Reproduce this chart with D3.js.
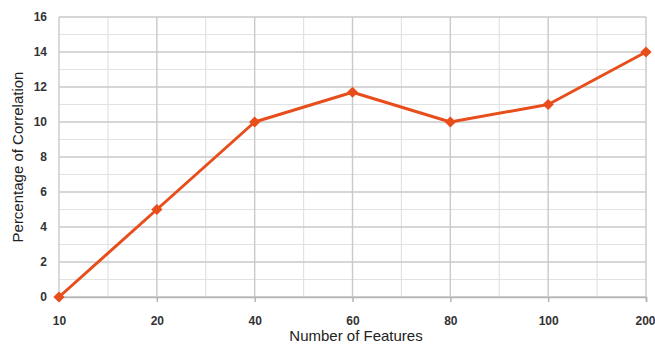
<!DOCTYPE html>
<html><head><meta charset="utf-8">
<script src="https://cdn.jsdelivr.net/npm/d3@7"></script>
<style>body{margin:0;background:#fff}svg{display:block}</style>
</head><body>
<script>
const categories = ["10","20","40","60","80","100","200"];
const values = [0, 5, 10, 11.7, 10, 11, 14];
const yTicks = [0,2,4,6,8,10,12,14,16];
const xTitle = "Number of Features";
const yTitle = "Percentage of Correlation";

const W = 655, H = 344;
const m = {left: 59, right: 9, top: 17, bottom: 47};
const svg = d3.select("body").append("svg").attr("width", W).attr("height", H);

const x = d3.scalePoint().domain(categories).range([m.left, W - m.right]).padding(0);
const y = d3.scaleLinear().domain([0,16]).range([H - m.bottom, m.top]);

const g = svg.append("g");
const minorY = d3.range(1, 16, 2);
g.selectAll(".hmin").data(minorY).join("line")
  .attr("x1", m.left).attr("x2", W - m.right)
  .attr("y1", d => y(d)).attr("y2", d => y(d))
  .attr("stroke", "#e2e2e2").attr("stroke-width", 1.2);
const step = x.step();
g.selectAll(".vmin").data(categories.slice(0,-1)).join("line")
  .attr("x1", d => x(d) + step/2).attr("x2", d => x(d) + step/2)
  .attr("y1", m.top).attr("y2", H - m.bottom)
  .attr("stroke", "#e2e2e2").attr("stroke-width", 1.2);
g.selectAll(".hmaj").data(yTicks).join("line")
  .attr("x1", m.left).attr("x2", W - m.right)
  .attr("y1", d => y(d)).attr("y2", d => y(d))
  .attr("stroke", "#c9c9c9").attr("stroke-width", 1.4);
g.selectAll(".vmaj").data(categories).join("line")
  .attr("x1", d => x(d)).attr("x2", d => x(d))
  .attr("y1", m.top).attr("y2", H - m.bottom)
  .attr("stroke", "#c9c9c9").attr("stroke-width", 1.4);

const xa = svg.append("g").attr("transform", `translate(0,${H - m.bottom})`)
  .call(d3.axisBottom(x).tickSize(5).tickPadding(14));
xa.select(".domain").attr("stroke", "#b5b5b5").attr("stroke-width", 1.5);
xa.selectAll(".tick line").attr("stroke", "#b5b5b5").attr("stroke-width", 1.5);
xa.selectAll("text").attr("font-family", "Liberation Sans, Arial, sans-serif")
  .attr("font-size", 12).attr("font-weight", "bold").attr("fill", "#333");
xa.selectAll(".tick text").filter(d => d === categories[categories.length-1])
  .attr("text-anchor", "end").attr("dx", 9);

const ya = svg.append("g").attr("transform", `translate(${m.left},0)`)
  .call(d3.axisLeft(y).tickValues(yTicks).tickSize(0).tickPadding(12));
ya.select(".domain").remove();
ya.selectAll("text").attr("font-family", "Liberation Sans, Arial, sans-serif")
  .attr("font-size", 12).attr("font-weight", "bold").attr("fill", "#333");

svg.append("text").attr("x", 356).attr("y", 341).attr("text-anchor", "middle")
  .attr("font-family", "Liberation Sans, Arial, sans-serif").attr("font-size", 15).attr("fill", "#222")
  .text(xTitle);
svg.append("text").attr("transform", `translate(23,${(m.top + H - m.bottom)/2}) rotate(-90)`)
  .attr("text-anchor", "middle")
  .attr("font-family", "Liberation Sans, Arial, sans-serif").attr("font-size", 15).attr("fill", "#222")
  .text(yTitle);

const data = categories.map((c,i) => ({c, v: values[i]}));
const color = "#e84e1c";
svg.append("path").datum(data)
  .attr("d", d3.line().x(d => x(d.c)).y(d => y(d.v)))
  .attr("fill", "none").attr("stroke", color).attr("stroke-width", 3).attr("stroke-linejoin", "round");
svg.selectAll(".pt").data(data).join("path")
  .attr("transform", d => `translate(${x(d.c)},${y(d.v)})`)
  .attr("d", d3.symbol(d3.symbolDiamond2, 80)())
  .attr("fill", color);
</script>
</body></html>
